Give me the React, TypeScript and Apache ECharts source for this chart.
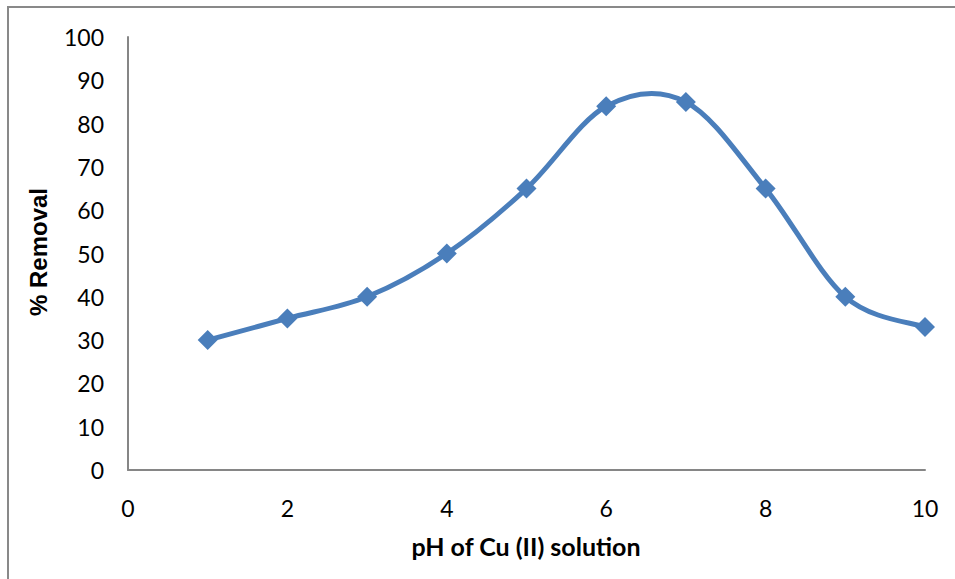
import React, { useEffect, useRef } from "react";
import * as echarts from "echarts";

const phValues = [1, 2, 3, 4, 5, 6, 7, 8, 9, 10];
const removal = [30, 35, 40, 50, 65, 84, 85, 65, 40, 33];
const xTitle = "pH of Cu (II) solution";
const yTitle = "% Removal";

const LINE_COLOR = "#4a7ebb";

export default function App() {
  const ref = useRef<HTMLDivElement>(null);
  useEffect(() => {
    if (!ref.current) return;
    const chart = echarts.init(ref.current, null, { renderer: "svg" });
    const font = "Lato, 'Open Sans', sans-serif";
    const points = phValues.map((x, i) => [x, removal[i]]);
    const n = points.length;
    chart.setOption({
      animation: false,
      backgroundColor: "#ffffff",
      grid: { left: 128, top: 37, right: 30, bottom: 109 },
      graphic: [
        {
          type: "rect",
          shape: { x: 8, y: 7, width: 1200, height: 1000 },
          style: { fill: "none", stroke: "#898989", lineWidth: 2 },
          silent: true,
        },
        {
          type: "text",
          x: 38,
          y: 252,
          rotation: Math.PI / 2,
          style: {
            text: yTitle,
            font: "bold 24px 'Liberation Sans', Arial, sans-serif",
            fill: "#000",
            align: "center",
            verticalAlign: "middle",
          },
        },
        {
          type: "text",
          x: 526,
          y: 546,
          style: {
            text: xTitle,
            font: `bold 25px ${font}`,
            fill: "#000",
            align: "center",
            verticalAlign: "middle",
          },
        },
      ],
      xAxis: {
        type: "value",
        min: 0,
        max: 10,
        interval: 2,
        axisLine: { show: true, lineStyle: { color: "#868686", width: 2 } },
        axisTick: { show: false },
        splitLine: { show: false },
        axisLabel: { color: "#000", fontSize: 23, fontFamily: font, margin: 26 },
      },
      yAxis: {
        type: "value",
        min: 0,
        max: 100,
        interval: 10,
        axisLine: { show: true, lineStyle: { color: "#868686", width: 2 } },
        axisTick: { show: false },
        splitLine: { show: false },
        axisLabel: { color: "#000", fontSize: 23, fontFamily: font, margin: 24 },
      },
      series: [
        {
          type: "custom",
          clip: false,
          z: 2,
          data: points.slice(0, n - 1),
          renderItem: (params: any, api: any) => {
            const i = params.dataIndex;
            const c = (k: number) => {
              const j = Math.max(0, Math.min(n - 1, k));
              return api.coord(points[j]);
            };
            const p0 = c(i - 1);
            const p1 = c(i);
            const p2 = c(i + 1);
            const p3 = c(i + 2);
            const t = 1 / 6;
            return {
              type: "bezierCurve",
              shape: {
                x1: p1[0],
                y1: p1[1],
                x2: p2[0],
                y2: p2[1],
                cpx1: p1[0] + (p2[0] - p0[0]) * t,
                cpy1: p1[1] + (p2[1] - p0[1]) * t,
                cpx2: p2[0] - (p3[0] - p1[0]) * t,
                cpy2: p2[1] - (p3[1] - p1[1]) * t,
              },
              style: {
                stroke: LINE_COLOR,
                lineWidth: 5,
                fill: "none",
                lineCap: "round",
              },
            };
          },
        },
        {
          type: "line",
          z: 3,
          data: points,
          symbol: "diamond",
          symbolSize: 20,
          lineStyle: { width: 0, opacity: 0 },
          itemStyle: { color: LINE_COLOR },
        },
      ],
    });
    return () => chart.dispose();
  }, []);
  return (
    <div
      ref={ref}
      style={{ position: "absolute", left: 0, top: 0, width: 955, height: 579 }}
    />
  );
}
